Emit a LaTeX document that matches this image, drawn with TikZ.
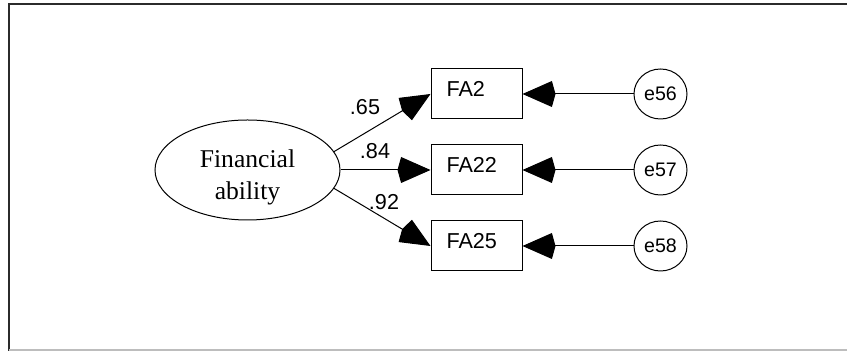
\documentclass[tikz,border=0pt]{standalone}
\usepackage{fontspec}
\setmainfont{Liberation Serif}
\setsansfont{Liberation Sans}
\usetikzlibrary{arrows.meta,positioning,shapes.geometric}
\definecolor{frameline}{HTML}{2B2B2B}
\definecolor{framegray}{HTML}{BDBDBD}
\tikzset{
  latentbox/.style={
    ellipse, draw=black, line width=0.5pt,
    minimum width=92.5pt, minimum height=50pt,
    font=\fontsize{12.8pt}{15.8pt}\selectfont, align=center,
    inner sep=0pt
  },
  itembox/.style={
    rectangle, draw=black, line width=0.5pt,
    minimum width=45.5pt, minimum height=25pt,
    font=\sffamily\fontsize{10.8pt}{12pt}\selectfont,
    text width=30pt, align=left, text depth=4.6pt,
    inner xsep=7.75pt, inner ysep=0pt
  },
  errorbox/.style={
    ellipse, draw=black, line width=0.5pt,
    minimum width=26.5pt, minimum height=25pt,
    font=\sffamily\fontsize{9.8pt}{11pt}\selectfont,
    inner sep=0pt
  },
  loadarrow/.style={
    -{Kite[length=16.5pt, width=13pt, inset=1.8pt]}, line width=0.5pt, color=#1
  },
  loadarrow/.default=black,
  coefnode/.style={
    font=\sffamily\fontsize{10.8pt}{12pt}\selectfont, inner sep=0pt
  },
}
\begin{document}
\begin{tikzpicture}[x=0.5pt, y=-0.5pt, node distance=12.5pt and 55.5pt]
  \useasboundingbox (0,0) rectangle (847,351);
  % Frame
  \draw[frameline, line width=1pt] (9,351) -- (9,4) -- (847,4);
  \draw[framegray, line width=1pt] (9,350.5) -- (847,350.5);

  % Factor and items
  \node[latentbox] (fin) at (247.5,170) {\rule{0pt}{16.5pt}Financial\\ability};
  \node[itembox] (fa22) at (476.5,170) {FA22};
  \node[itembox, above=of fa22] (fa2) {FA2};
  \node[itembox, below=of fa22] (fa25) {FA25};
  \draw[loadarrow] (fin.12) -- (fa2.west);
  \draw[loadarrow] (fin.east) -- (fa22.west);
  \draw[loadarrow] (fin.-12) -- (fa25.west);
  \node[coefnode] (w65) at (365,107) {.65};
  \node[coefnode] (w84) at (375,151) {.84};
  \node[coefnode] (w92) at (384,202) {.92};

  % Error terms
  \node[errorbox, right=of fa2] (e56) {e56};
  \node[errorbox, right=of fa22] (e57) {e57};
  \node[errorbox, right=of fa25] (e58) {e58};
  \draw[loadarrow] (e56) -- (fa2);
  \draw[loadarrow] (e57) -- (fa22);
  \draw[loadarrow] (e58) -- (fa25);
\end{tikzpicture}
\end{document}
